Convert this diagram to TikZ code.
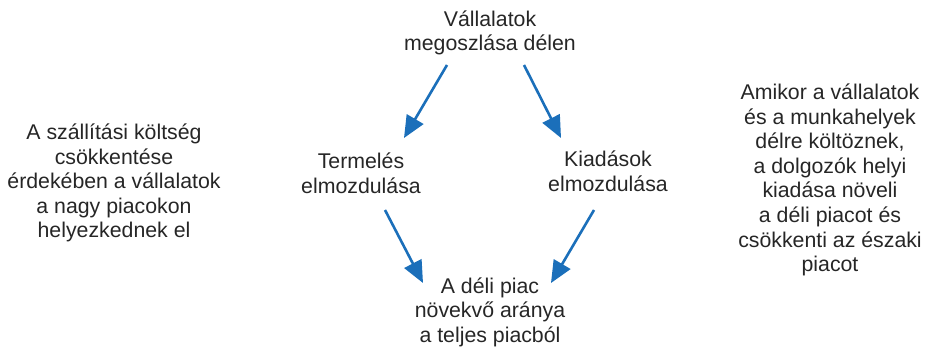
\documentclass[tikz,border=0pt]{standalone}
\usepackage{fontspec}
\setmainfont{Liberation Sans}
\usetikzlibrary{arrows.meta}
\definecolor{arrowblue}{HTML}{1B6FBA}
\definecolor{txt}{HTML}{262626}
\tikzset{
  lbl/.style={align=center, text=txt, font=\fontsize{21.3}{24.6}\selectfont, inner sep=0pt},
  flow/.style={draw=arrowblue, line width=2.6pt, -{Triangle[length=22pt,width=19pt]}}
}
\begin{document}
\begin{tikzpicture}[x=1pt,y=1pt]
\useasboundingbox (0,0) rectangle (928,-350);
\node[lbl] (top) at (490,-33) {Vállalatok\\megoszlása délen};
\node[lbl] (prod) at (361,-173) {Termelés\\elmozdulása};
\node[lbl] (spend) at (608,-171) {Kiadások\\elmozdulása};
\node[lbl] (bottom) at (490,-312) {A déli piac\\növekvő aránya\\a teljes piacból};
\node[lbl] (leftnote) at (114,-183) {A szállítási költség\\csökkentése\\érdekében a vállalatok\\a nagy piacokon\\helyezkednek el};
\node[lbl] (rightnote) at (830,-180) {Amikor a vállalatok\\és a munkahelyek\\délre költöznek,\\a dolgozók helyi\\kiadása növeli\\a déli piacot és\\csökkenti az északi\\piacot};
\coordinate (t1) at (447,-65);
\coordinate (p1) at (404,-138);
\coordinate (t2) at (524,-65);
\coordinate (s1) at (561,-138);
\coordinate (p2) at (385,-210);
\coordinate (b1) at (423,-283);
\coordinate (s2) at (594,-210);
\coordinate (b2) at (551,-283);
\draw[flow] (t1) -- (p1);
\draw[flow] (t2) -- (s1);
\draw[flow] (p2) -- (b1);
\draw[flow] (s2) -- (b2);
\end{tikzpicture}
\end{document}
